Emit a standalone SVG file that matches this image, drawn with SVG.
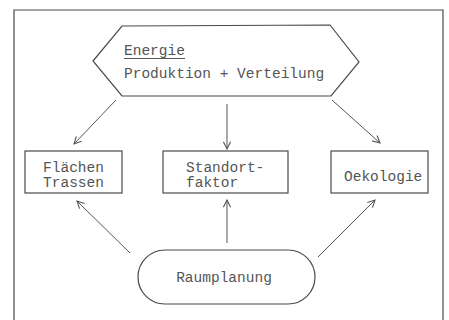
<svg xmlns="http://www.w3.org/2000/svg" width="449" height="320" viewBox="0 0 449 320">
<defs>
<style>
.s{fill:none;stroke:#4a4a4a;stroke-width:1.2}
.t{font-family:"Liberation Mono","DejaVu Sans Mono",monospace;font-size:14.5px;fill:#555}
.c{stroke:#555;stroke-width:1;fill:none;marker-end:url(#a)}
</style>
<marker id="a" viewBox="0 0 10 10" refX="9" refY="5" markerWidth="9" markerHeight="9" orient="auto" markerUnits="userSpaceOnUse">
<path d="M1,1 L9,5 L1,9" fill="none" stroke="#555" stroke-width="1.2"/>
</marker>
</defs>
<rect width="449" height="320" fill="#fff"/>
<path class="s" d="M14,325 V10 H443 V325"/>
<g id="energie">
<polygon class="s" points="93,61 122,26 330,25 359,62 331,96 122,96"/>
<text class="t" x="124" y="55">Energie</text>
<line x1="124" y1="58.5" x2="185" y2="58.5" stroke="#555" stroke-width="1"/>
<text class="t" x="124" y="78">Produktion + Verteilung</text>
</g>
<g id="flaechen">
<rect class="s" x="25" y="151" width="97" height="42"/>
<text class="t" x="73.5" y="172" text-anchor="middle">Flächen</text>
<text class="t" x="73.5" y="187" text-anchor="middle">Trassen</text>
</g>
<g id="standort">
<rect class="s" x="163" y="151" width="125" height="42"/>
<text class="t" x="186" y="172">Standort-</text>
<text class="t" x="186" y="187">faktor</text>
</g>
<g id="oekologie">
<rect class="s" x="331" y="151" width="97" height="42"/>
<text class="t" x="344" y="181">Oekologie</text>
</g>
<g id="raumplanung">
<rect class="s" x="138" y="250" width="177" height="54" rx="27"/>
<text class="t" x="224" y="282" text-anchor="middle">Raumplanung</text>
</g>
<g id="connectors">
<line class="c" x1="116" y1="100" x2="74" y2="144"/>
<line class="c" x1="227" y1="104" x2="227" y2="149"/>
<line class="c" x1="332" y1="100" x2="380" y2="143"/>
<line class="c" x1="130" y1="253" x2="77" y2="201"/>
<line class="c" x1="227" y1="243" x2="227" y2="200"/>
<line class="c" x1="318" y1="257" x2="375" y2="200"/>
</g>
</svg>
